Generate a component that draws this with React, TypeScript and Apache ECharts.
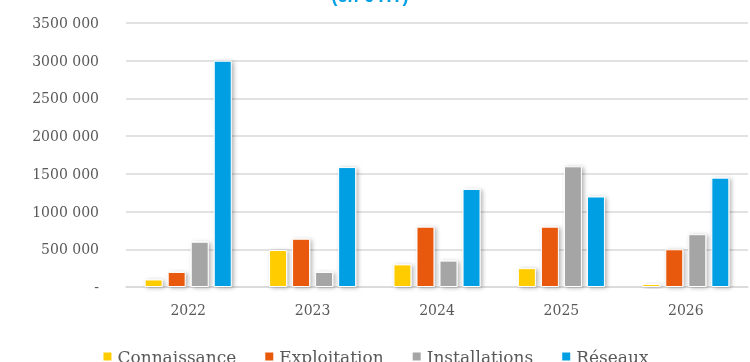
import React, { useEffect, useRef } from "react";
import * as echarts from "echarts";

const categories = ["2022", "2023", "2024", "2025", "2026"];
const seriesNames = ["Connaissance", "Exploitation", "Installations", "Réseaux"];
const connaissance = [100000, 490000, 300000, 250000, 40000];
const exploitation = [200000, 640000, 800000, 800000, 500000];
const installations = [600000, 200000, 350000, 1600000, 700000];
const reseaux = [3000000, 1590000, 1300000, 1200000, 1450000];
const colors = ["#FFCC00", "#E8590C", "#A5A5A5", "#009FE3"];

export default function App() {
  const ref = useRef<HTMLDivElement>(null);
  useEffect(() => {
    if (!ref.current) return;
    const chart = echarts.init(ref.current, undefined, { renderer: "svg" });
    const data = [connaissance, exploitation, installations, reseaux];
    const font = "'DejaVu Serif', serif";
    chart.setOption({
      animation: false,
      graphic: [
        {
          type: "text",
          x: 370,
          y: 5,
          style: {
            text: "(en € HT)",
            fill: "#00A0E3",
            font: "bold 18px 'Liberation Sans', Arial, sans-serif",
            align: "center",
            verticalAlign: "bottom",
          },
        },
      ],
      grid: { left: 126, right: 2, top: 23, bottom: 75 },
      legend: {
        top: 348,
        left: "center",
        padding: 0,
        itemWidth: 10,
        itemHeight: 10,
        itemGap: 27,
        icon: "rect",
        textStyle: { color: "#595959", fontSize: 17, fontFamily: font },
        data: seriesNames,
      },
      xAxis: {
        type: "category",
        data: categories,
        axisTick: { show: false },
        axisLine: { lineStyle: { color: "#D9D9D9", width: 1.5 } },
        axisLabel: { color: "#595959", fontSize: 14, fontFamily: font, margin: 16 },
      },
      yAxis: {
        type: "value",
        min: 0,
        max: 3500000,
        interval: 500000,
        axisLabel: {
          color: "#595959",
          fontSize: 14,
          fontFamily: font,
          margin: 27,
          formatter: (v: number) => (v === 0 ? "-" : Math.floor(v / 1000) + " 000"),
        },
        splitLine: { lineStyle: { color: "#D9D9D9", width: 1.5 } },
      },
      series: seriesNames.map((name, i) => ({
        name,
        type: "bar",
        data: data[i],
        barGap: "28%",
        barCategoryGap: "30%",
        itemStyle: {
          color: colors[i],
          borderColor: "#FFFFFF",
          borderWidth: 1,
          shadowBlur: 4,
          shadowOffsetX: 2,
          shadowOffsetY: 1,
          shadowColor: "rgba(0,0,0,0.3)",
        },
      })),
    });
    return () => chart.dispose();
  }, []);
  return (
    <div
      ref={ref}
      style={{ position: "fixed", left: 0, top: 0, width: 750, height: 362 }}
    />
  );
}
